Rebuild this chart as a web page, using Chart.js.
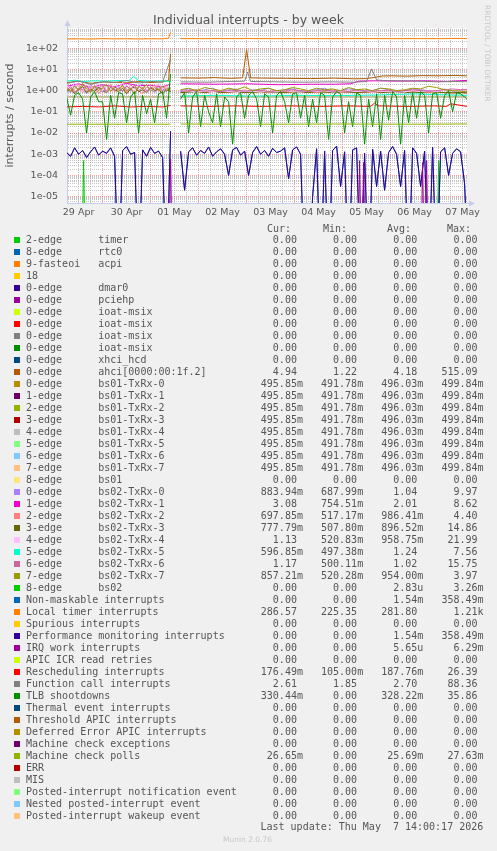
<!DOCTYPE html>
<html>
<head>
<meta charset="utf-8">
<title>Individual interrupts - by week</title>
<script src="https://cdn.jsdelivr.net/npm/chart.js@4.4.1/dist/chart.umd.min.js"></script>
<style>
  body { margin: 0; background: #f0f0f0; }
  #page { position: relative; width: 497px; height: 851px; overflow: hidden; font-family: "DejaVu Sans", sans-serif; }
  #graph { position: absolute; left: 0; top: 0; }
  .txt { position: absolute; white-space: pre; }
  #title { left: 0; width: 497px; top: 13px; text-align: center; font-size: 12.5px; line-height: 14px; color: #555; }
  #vendor { left: 483px; top: 5px; writing-mode: vertical-rl; font-size: 7.5px; line-height: 8px; color: #c8c8c8; }
  .mono { font-family: "DejaVu Sans Mono", monospace; font-size: 10px; line-height: 12px; color: #555; }
  .sw { position: absolute; width: 6px; height: 6px; }
  #munin { left: 223px; top: 835px; font-size: 7.5px; line-height: 9px; color: #c8c8c8; }
</style>
</head>
<body>
<div id="page">
  <canvas id="graph" width="497" height="225"></canvas>
  <div id="title" class="txt">Individual interrupts - by week</div>
  <div id="vendor" class="txt">RRDTOOL / TOBI OETIKER</div>
  <div id="legend"></div>
  <div id="munin" class="txt">Munin 2.0.76</div>
</div>
<script>
// x is hours after 29 Apr 00:00
const X_MIN = 6.2, X_MAX = 206.2;
const Y_MIN = 5e-6, Y_MAX = 900;
const FLOOR = 1e-9; // zero readings fall off the log axis
const dayLabels = ['29 Apr', '30 Apr', '01 May', '02 May', '03 May', '04 May', '05 May', '06 May', '07 May'];

// sample times, hole around 01 May noon
const hours = [];
for (let h = 6; h <= 58; h += 2) hours.push(h);
hours.push(60.5);
for (let h = 63; h <= 207; h += 2) hours.push(h);

const bandHours = [];
for (let h = 6; h <= 58; h += 2) bandHours.push(h);
bandHours.push(60.5);
for (let h = 63; h <= 207; h += 4) bandHours.push(h);

const tlbVals = [0.5, 0.07, 0.6, 0.8, 0.4, 0.01, 0.5, 0.9, 0.3, 0.3, 0.005, 0.6, 0.05, 0.8, 0.7, 0.03, 0.5, 0.9, 0.01, 0.6, 0.08, 0.4, 0.03, 0.7, 0.9, 0.05, 6,
  null,
  0.4, 0.8, 0.01, 0.5, 0.9, 0.02, 0.6, 0.1, 0.03, 0.7, 0.02, 0.5, 0.3, 0.003, 0.5, 0.8, 0.05, 0.6, 0.9, 0.4, 0.02, 0.7, 0.5, 0.01, 0.6, 0.9, 0.3, 0.03,
  0.7, 0.8, 0.05, 0.6, 0.02, 0.4, 0.03, 0.8, 0.6, 0.005, 0.5, 0.9, 0.7, 0.01, 0.3, 0.02, 0.8, 0.6, 0.003, 0.4, 0.02, 0.7, 0.005, 0.6, 0.04, 0.9, 0.5,
  0.003, 0.6, 0.03, 0.8, 0.05, 0.9, 0.6, 0.01, 0.7, 0.8, 0.05, 0.6, 1.0, 0.1, 0.8, 0.7, 0.5, 0.33];

const perfVals = [1.2e-3, 8e-4, 2e-3, 1e-3, 1.5e-3, 7e-4, 1.3e-3, 2.2e-3, 9e-4, 1.4e-3, 1.1e-3, 2e-3, 8e-4, 0, 1.5e-3, 2.3e-3, 1e-3, 1.2e-3, 0, 1.6e-3, 8e-4, 2.1e-3, 1.1e-3, 1.4e-3, 7e-4, 0, 0.012,
  null,
  1.4e-3, 2e-5, 1.3e-3, 2e-3, 9e-4, 1.5e-3, 1.1e-3, 2.2e-3, 8e-4, 1.3e-3, 1.8e-3, 1e-3, 1e-4, 1.6e-3, 2.1e-3, 9e-4, 1.4e-3, 1e-4, 1.2e-3, 2.3e-3,
  1e-3, 1.5e-3, 8e-4, 1.9e-3, 1.2e-3, 1.4e-3, 2e-3, 7e-5, 1.6e-3, 2.2e-3, 1e-3, 0, 0, 1e-5, 1.8e-3, 0, 1.4e-3, 0, 1.5e-3, 2.4e-3, 3e-5, 1.3e-3,
  0, 1.6e-3, 2e-3, 0, 1.1e-3, 0, 1.7e-3, 3e-5, 1.4e-3, 2e-5, 1.2e-3, 2.3e-3, 1e-3, 3e-5, 1.5e-3, 0, 2e-3, 1.1e-3, 3e-5, 1.4e-3, 0, 2.1e-3, 0,
  1.3e-3, 2e-3, 1e-4, 1.1e-3, 1.8e-3, 1.3e-3, 4e-5, 0];
const nmiVals = perfVals; // same readings as performance monitoring

const bs02q0 = [1.2, 0.8, 1.9, 1.0, 1.5, 0.7, 2.0, 1.1, 1.4, 0.8, 1.7, 1.0, 1.3, 1.6, 0.9, 1.8, 1.1, 0.7, 1.5, 2.1, 1.0, 1.3, 0.8, 1.6, 1.2, 0.9, 1.4,
  null,
  1.0, 1.2, 0.9, 1.1, 1.3, 0.9, 1.0, 1.2, 0.8, 1.1, 1.0, 1.3, 0.9, 1.1, 1.2, 0.9, 1.0, 1.1, 1.3, 0.9, 1.0, 1.2, 1.1, 0.9, 1.0, 1.3, 1.1, 0.9, 1.0, 1.2, 1.1, 1.0, 0.9, 1.2, 0.95, 1.0, 0.88];
const bs02q2 = [1.5, 0.9, 1.2, 2.0, 0.8, 1.4, 1.1, 1.8, 0.7, 1.3, 1.0, 2.1, 0.9, 1.2, 1.6, 0.8, 1.9, 1.2, 1.0, 0.7, 1.5, 1.1, 2.0, 0.9, 1.3, 1.7, 1.0,
  null,
  0.8, 0.9, 1.1, 0.8, 0.9, 1.0, 0.8, 0.9, 1.1, 0.8, 0.9, 0.8, 1.0, 0.9, 0.8, 1.0, 0.9, 0.8, 0.9, 1.1, 0.8, 0.9, 1.0, 0.8, 0.9, 0.8, 1.0, 0.9, 0.8, 0.9, 1.0, 0.8, 0.9, 0.8, 0.75, 0.8, 0.7];
const bs02q3 = [0.9, 1.3, 0.7, 1.1, 1.6, 0.8, 1.2, 0.9, 1.5, 1.0, 0.8, 1.4, 1.1, 0.9, 1.3, 0.7, 1.2, 1.5, 0.9, 1.1, 0.8, 1.4, 1.0, 1.2, 0.7, 1.1, 0.9,
  null,
  0.8, 0.85, 0.9, 0.8, 0.95, 0.8, 0.85, 0.9, 0.8, 0.85, 0.9, 0.8, 0.85, 0.8, 0.9, 0.85, 0.8, 0.9, 0.85, 0.8, 0.9, 0.85, 0.8, 0.85, 0.9, 0.8, 0.85, 0.9, 0.8, 0.85, 0.8, 0.9, 0.85, 0.8, 0.8, 0.82, 0.78];
const bs02q4 = [1.8, 1.1, 2.3, 1.4, 0.9, 2.0, 1.3, 1.6, 2.2, 1.0, 1.7, 1.2, 1.9, 1.4, 2.4, 1.1, 1.5, 0.9, 2.1, 1.3, 1.8, 1.0, 1.6, 2.2, 1.2, 1.5, 1.9,
  null,
  0.9, 1.0, 0.85, 0.95, 0.9, 1.05, 0.9, 0.85, 1.0, 0.9, 0.95, 0.85, 0.9, 1.0, 0.9, 0.85, 0.95, 0.9, 1.0, 0.85, 0.9, 0.95, 0.9, 1.0, 0.85, 0.9, 0.95, 0.9, 0.85, 1.0, 0.9, 0.95, 0.9, 1.1, 1.0, 1.05, 1.13];
const bs02q6 = [1.0, 1.6, 0.8, 1.3, 1.1, 1.7, 0.9, 1.4, 1.2, 1.9, 0.8, 1.5, 1.0, 1.3, 0.9, 1.6, 1.2, 1.8, 1.0, 1.4, 0.8, 1.5, 1.1, 1.7, 0.9, 1.3, 1.2,
  null,
  0.9, 1.0, 1.05, 0.95, 1.0, 0.9, 1.1, 1.0, 0.95, 1.0, 1.05, 0.9, 1.0, 0.95, 1.1, 1.0, 0.9, 1.0, 1.05, 0.95, 1.0, 0.9, 1.1, 1.0, 0.95, 1.0, 1.05, 0.9, 1.0, 1.1, 1.0, 0.95, 1.0, 1.1, 1.2, 1.1, 1.17];
const bs02q7 = [1.3, 0.9, 1.6, 1.1, 2.2, 1.2, 0.8, 1.7, 1.0, 1.4, 2.0, 0.9, 1.5, 1.1, 1.8, 1.0, 1.3, 0.7, 1.6, 1.2, 2.0, 0.9, 1.4, 1.1, 1.7, 1.0, 1.3,
  null,
  1.1, 1.3, 1.0, 1.4, 1.2, 1.0, 1.3, 1.1, 1.5, 1.0, 1.2, 1.3, 1.0, 1.1, 1.4, 1.2, 1.0, 1.3, 1.1, 1.2, 1.0, 1.4, 1.1, 1.2, 1.0, 1.3, 1.2, 1.0, 1.1, 1.3, 1.2, 1.6, 1.4, 1.1, 1.0, 0.95, 0.86];

const magHours = [6, 12, 18, 24, 30, 36, 42, 48, 54, 58, 60.5, 63, 80, 96, 112, 128, 140, 148, 152, 160, 172, 186, 196, 207];
const magVals = [1.6, 2.1, 1.4, 1.9, 1.5, 2.2, 1.7, 1.8, 1.5, 2.0, null, 2.1, 2.0, 2.1, 1.9, 2.0, 2.0, 2.1, 2.8, 2.9, 2.8, 2.9, 2.7, 3.08];

const cyanHours = [6, 10, 14, 20, 26, 32, 37, 39.5, 42, 48, 54, 58, 60.5, 63, 80, 100, 120, 140, 160, 180, 190, 200, 207];
const cyanVals = [2.8, 3.1, 2.7, 2.9, 2.8, 3.0, 2.9, 4.6, 3.0, 2.8, 2.9, 2.7, null, 0.55, 0.6, 0.55, 0.6, 0.58, 0.62, 0.7, 0.65, 0.62, 0.6];

const ahciHours = [6, 12, 18, 24, 30, 36, 42, 48, 54, 57, 58, 60.5, 63, 72, 80, 88, 94, 96, 98, 104, 116, 128, 140, 150, 156, 160, 164, 168, 176, 184, 192, 200, 207];
const ahciVals = [2.4, 2.8, 2.2, 2.6, 2.5, 2.3, 2.7, 2.4, 2.6, 3.0, 55, null, 4.0, 3.9, 4.1, 3.8, 4.0, 85, 4.0, 3.9, 3.8, 3.7, 3.9, 3.6, 3.7, 4.2, 4.9, 5.0, 4.8, 5.1, 5.0, 5.2, 4.94];

const funcHours = [6, 12, 18, 24, 30, 36, 42, 48, 54, 58, 60.5, 63, 76, 88, 95, 96.5, 98, 110, 124, 138, 150, 156, 158.5, 161, 164, 172, 182, 192, 200, 207];
const funcVals = [2.2, 2.8, 2.0, 2.6, 2.4, 3.0, 2.3, 2.7, 2.5, 30, null, 2.6, 2.5, 2.7, 2.8, 7.5, 2.7, 2.6, 2.5, 2.6, 2.5, 2.7, 10.5, 3.2, 3.0, 2.9, 2.8, 2.6, 2.7, 2.61];

const ltHours = [6, 12, 18, 24, 30, 36, 42, 48, 54, 57, 58, 60.5, 63, 72, 84, 94, 96, 98, 110, 124, 138, 152, 166, 180, 194, 200, 207];
const ltVals = [272, 278, 270, 282, 275, 280, 273, 279, 276, 300, 560, null, 284, 283, 285, 283, 292, 284, 283, 284, 282, 285, 283, 284, 283, 290, 286.57];

const rsHours = [6, 14, 22, 30, 38, 46, 54, 58, 60.5, 63, 76, 90, 104, 118, 132, 146, 158, 160, 162, 176, 190, 196, 198, 207];
const rsVals = [0.17, 0.18, 0.17, 0.19, 0.17, 0.18, 0.17, 0.2, null, 0.19, 0.18, 0.19, 0.18, 0.19, 0.18, 0.19, 0.18, 0.26, 0.19, 0.18, 0.19, 0.18, 0.24, 0.176];

const mcpHours = [6, 30, 58, 60.5, 63, 100, 140, 180, 207];
const mcpVals = [0.026, 0.026, 0.026, null, 0.0265, 0.026, 0.0265, 0.026, 0.0267];

const bs01Hours = [6, 58, 60.5, 63, 207];
const bs01Vals = [0.496, 0.497, null, 0.496, 0.4959];

const irqHours = [6, 57, 58, 59, 60.5, 63, 151.5, 152.5, 153.5, 154.5, 155.5, 183, 184, 185, 186, 187, 207];
const irqVals = [0, 0, 6e-4, 0, null, 0, 0, 5e-4, 0, 4e-4, 0, 0, 4e-4, 0, 5e-4, 0, 0];

const bs02Hours = [6, 13.5, 14.5, 15.5, 60.5, 191, 192, 193, 207];
const bs02Vals = [0, 0, 5e-4, 0, null, 0, 5e-4, 0, 0];

const palette = ['#00CC00', '#0066B3', '#FF8000', '#FFCC00', '#330099', '#990099', '#CCFF00', '#FF0000', '#808080', '#008F00',
  '#00487D', '#B35A00', '#B38F00', '#6B006B', '#8FB300', '#B30000', '#BEBEBE', '#80FF80', '#80C9FF', '#FFC080',
  '#FFE680', '#AA80FF', '#EE00CC', '#FF8080', '#666600', '#FFBFFF', '#00FFCC', '#CC6699', '#999900'];
const colorOf = i => palette[i % palette.length];

const irqNames = [
  ['2-edge', 'timer'], ['8-edge', 'rtc0'], ['9-fasteoi', 'acpi'], ['18', ''],
  ['0-edge', 'dmar0'], ['0-edge', 'pciehp'], ['0-edge', 'ioat-msix'], ['0-edge', 'ioat-msix'], ['0-edge', 'ioat-msix'], ['0-edge', 'ioat-msix'],
  ['0-edge', 'xhci_hcd'], ['0-edge', 'ahci[0000:00:1f.2]'],
  ['0-edge', 'bs01-TxRx-0'], ['1-edge', 'bs01-TxRx-1'], ['2-edge', 'bs01-TxRx-2'], ['3-edge', 'bs01-TxRx-3'],
  ['4-edge', 'bs01-TxRx-4'], ['5-edge', 'bs01-TxRx-5'], ['6-edge', 'bs01-TxRx-6'], ['7-edge', 'bs01-TxRx-7'], ['8-edge', 'bs01'],
  ['0-edge', 'bs02-TxRx-0'], ['1-edge', 'bs02-TxRx-1'], ['2-edge', 'bs02-TxRx-2'], ['3-edge', 'bs02-TxRx-3'],
  ['4-edge', 'bs02-TxRx-4'], ['5-edge', 'bs02-TxRx-5'], ['6-edge', 'bs02-TxRx-6'], ['7-edge', 'bs02-TxRx-7'], ['8-edge', 'bs02'],
  'Non-maskable interrupts', 'Local timer interrupts', 'Spurious interrupts', 'Performance monitoring interrupts',
  'IRQ work interrupts', 'APIC ICR read retries', 'Rescheduling interrupts', 'Function call interrupts', 'TLB shootdowns',
  'Thermal event interrupts', 'Threshold APIC interrupts', 'Deferred Error APIC interrupts', 'Machine check exceptions',
  'Machine check polls', 'ERR', 'MIS', 'Posted-interrupt notification event', 'Nested posted-interrupt event', 'Posted-interrupt wakeup event'];

const curVals = ['0.00', '0.00', '0.00', '0.00', '0.00', '0.00', '0.00', '0.00', '0.00', '0.00', '0.00', '4.94',
  '495.85m', '495.85m', '495.85m', '495.85m', '495.85m', '495.85m', '495.85m', '495.85m', '0.00',
  '883.94m', '3.08', '697.85m', '777.79m', '1.13', '596.85m', '1.17', '857.21m', '0.00',
  '0.00', '286.57', '0.00', '0.00', '0.00', '0.00', '176.49m', '2.61', '330.44m',
  '0.00', '0.00', '0.00', '0.00', '26.65m', '0.00', '0.00', '0.00', '0.00', '0.00'];
const minVals = ['0.00', '0.00', '0.00', '0.00', '0.00', '0.00', '0.00', '0.00', '0.00', '0.00', '0.00', '1.22',
  '491.78m', '491.78m', '491.78m', '491.78m', '491.78m', '491.78m', '491.78m', '491.78m', '0.00',
  '687.99m', '754.51m', '517.17m', '507.80m', '520.83m', '497.38m', '500.11m', '520.28m', '0.00',
  '0.00', '225.35', '0.00', '0.00', '0.00', '0.00', '105.00m', '1.85', '0.00',
  '0.00', '0.00', '0.00', '0.00', '0.00', '0.00', '0.00', '0.00', '0.00', '0.00'];
const avgVals = ['0.00', '0.00', '0.00', '0.00', '0.00', '0.00', '0.00', '0.00', '0.00', '0.00', '0.00', '4.18',
  '496.03m', '496.03m', '496.03m', '496.03m', '496.03m', '496.03m', '496.03m', '496.03m', '0.00',
  '1.04', '2.01', '986.41m', '896.52m', '958.75m', '1.24', '1.02', '954.00m', '2.83u',
  '1.54m', '281.80', '0.00', '1.54m', '5.65u', '0.00', '187.76m', '2.70', '328.22m',
  '0.00', '0.00', '0.00', '0.00', '25.69m', '0.00', '0.00', '0.00', '0.00', '0.00'];
const maxVals = ['0.00', '0.00', '0.00', '0.00', '0.00', '0.00', '0.00', '0.00', '0.00', '0.00', '0.00', '515.09',
  '499.84m', '499.84m', '499.84m', '499.84m', '499.84m', '499.84m', '499.84m', '499.84m', '0.00',
  '9.97', '8.62', '4.40', '14.86', '21.99', '7.56', '15.75', '3.97', '3.26m',
  '358.49m', '1.21k', '0.00', '358.49m', '6.29m', '0.00', '26.39', '88.36', '35.86',
  '0.00', '0.00', '0.00', '0.00', '27.63m', '0.00', '0.00', '0.00', '0.00', '0.00'];

const rowNames = irqNames.map(n => Array.isArray(n) ? (n[1] ? n[0].padEnd(12) + n[1] : n[0]) : n);

// which legend rows actually leave a line on the log plot
const drawn = [
  { row: 11, h: ahciHours, v: ahciVals },
  { row: 12, h: bs01Hours, v: bs01Vals }, { row: 13, h: bs01Hours, v: bs01Vals },
  { row: 14, h: bs01Hours, v: bs01Vals }, { row: 15, h: bs01Hours, v: bs01Vals },
  { row: 16, h: bs01Hours, v: bs01Vals }, { row: 17, h: bs01Hours, v: bs01Vals },
  { row: 18, h: bs01Hours, v: bs01Vals }, { row: 19, h: bs01Hours, v: bs01Vals },
  { row: 21, h: bandHours, v: bs02q0 },
  { row: 22, h: magHours, v: magVals },
  { row: 23, h: bandHours, v: bs02q2 },
  { row: 24, h: bandHours, v: bs02q3 },
  { row: 25, h: bandHours, v: bs02q4 },
  { row: 26, h: cyanHours, v: cyanVals },
  { row: 27, h: bandHours, v: bs02q6 },
  { row: 28, h: bandHours, v: bs02q7 },
  { row: 29, h: bs02Hours, v: bs02Vals },
  { row: 30, h: hours, v: nmiVals },
  { row: 31, h: ltHours, v: ltVals },
  { row: 33, h: hours, v: perfVals },
  { row: 34, h: irqHours, v: irqVals },
  { row: 36, h: rsHours, v: rsVals },
  { row: 37, h: funcHours, v: funcVals },
  { row: 38, h: hours, v: tlbVals },
  { row: 43, h: mcpHours, v: mcpVals }
];

// rrdtool paints in legend order, last one on top
const datasets = drawn.map(s => ({
  label: rowNames[s.row],
  data: s.h.map((x, i) => {
    const y = s.v[i];
    return { x: x, y: y == null ? null : (y === 0 ? FLOOR : y) };
  }),
  borderColor: colorOf(s.row),
  borderWidth: 1,
  pointRadius: 0,
  tension: 0,
  spanGaps: false,
  clip: 0
})).reverse();

const xGrid = [];
for (let h = 12; h < X_MAX; h += 6) xGrid.push(h);
const yGrid = [];
for (let e = -6; e <= 2; e++) {
  for (let m = 1; m <= 9; m++) {
    const v = Number(m + 'e' + e);
    if (v > Y_MIN && v < Y_MAX) yGrid.push(v);
  }
}

const minorGrid = 'rgba(150,150,150,0.55)';
const majorGrid = 'rgba(240,90,90,0.6)';
const axisColor = '#c6ccee';

const frame = {
  id: 'frame',
  beforeDraw(chart) {
    const a = chart.chartArea, ctx = chart.ctx;
    ctx.save();
    ctx.fillStyle = '#ffffff';
    ctx.fillRect(a.left, a.top, a.right - a.left, a.bottom - a.top);
    ctx.restore();
  },
  afterDraw(chart) {
    const a = chart.chartArea, ctx = chart.ctx;
    ctx.save();
    ctx.fillStyle = axisColor;
    ctx.strokeStyle = axisColor;
    ctx.beginPath();
    ctx.moveTo(a.left + 0.5, a.top);
    ctx.lineTo(a.left + 0.5, a.top - 4);
    ctx.moveTo(a.right, a.bottom + 0.5);
    ctx.lineTo(a.right + 4, a.bottom + 0.5);
    ctx.stroke();
    ctx.beginPath();
    ctx.moveTo(a.left + 0.5, a.top - 8);
    ctx.lineTo(a.left - 2.5, a.top - 2);
    ctx.lineTo(a.left + 3.5, a.top - 2);
    ctx.closePath();
    ctx.fill();
    ctx.beginPath();
    ctx.moveTo(a.right + 8, a.bottom + 0.5);
    ctx.lineTo(a.right + 2, a.bottom - 2.5);
    ctx.lineTo(a.right + 2, a.bottom + 3.5);
    ctx.closePath();
    ctx.fill();
    ctx.restore();
  }
};

Chart.defaults.font.family = '"DejaVu Sans", sans-serif';

new Chart(document.getElementById('graph').getContext('2d'), {
  type: 'line',
  data: { datasets: datasets },
  options: {
    responsive: false,
    animation: false,
    events: [],
    layout: { padding: { top: 28, right: 30, left: 0, bottom: 0 } },
    plugins: { legend: { display: false }, tooltip: { enabled: false }, title: { display: false } },
    scales: {
      x: {
        type: 'linear',
        min: X_MIN,
        max: X_MAX,
        afterBuildTicks: s => { s.ticks = xGrid.map(v => ({ value: v })); },
        afterFit: s => { s.height = 22; s.paddingLeft = 0; s.paddingRight = 0; },
        ticks: {
          autoSkip: false,
          maxRotation: 0,
          padding: 4,
          color: '#555',
          font: { size: 9.5 },
          callback: v => ((v - 12) % 24 === 0 ? dayLabels[(v - 12) / 24] : '')
        },
        grid: { drawTicks: false, lineWidth: 1, color: c => (c.tick && c.tick.value % 24 === 0 ? majorGrid : minorGrid) },
        border: { display: true, color: axisColor, dash: [1, 1] }
      },
      y: {
        type: 'logarithmic',
        min: Y_MIN,
        max: Y_MAX,
        afterBuildTicks: s => { s.ticks = yGrid.map(v => ({ value: v })); },
        afterFit: s => { s.width = 67; s.paddingTop = 0; s.paddingBottom = 0; },
        ticks: {
          autoSkip: false,
          padding: 9,
          color: '#555',
          font: { size: 9.5 },
          callback: v => {
            const e = Math.round(Math.log10(v));
            if (Math.abs(Math.log10(v) - e) > 1e-9) return '';
            return '1e' + (e < 0 ? '-' : '+') + String(Math.abs(e)).padStart(2, '0');
          }
        },
        grid: {
          drawTicks: false,
          lineWidth: 1,
          color: c => {
            if (!c.tick) return minorGrid;
            const l = Math.log10(c.tick.value);
            return Math.abs(l - Math.round(l)) < 1e-9 ? majorGrid : minorGrid;
          }
        },
        border: { display: true, color: axisColor, dash: [1, 1] },
        title: { display: true, text: 'interrupts / second', color: '#555', font: { size: 11 }, padding: { top: 4, bottom: 4 } }
      }
    }
  },
  plugins: [frame]
});

// legend table under the graph
const legendBox = document.getElementById('legend');
function place(left, top, text) {
  const d = document.createElement('div');
  d.className = 'txt mono';
  d.style.left = left + 'px';
  d.style.top = top + 'px';
  d.textContent = text;
  legendBox.appendChild(d);
}
function cell(s) {
  const unit = /[a-z]$/i.test(s) ? s.slice(-1) : ' ';
  const num = unit === ' ' ? s : s.slice(0, -1);
  return num.padStart(6) + unit;
}
const headLeft = [267, 323, 387, 447];
['Cur:', 'Min:', 'Avg:', 'Max:'].forEach((t, k) => place(headLeft[k], 223, t));
rowNames.forEach((name, i) => {
  const top = 234 + 12 * i;
  const sw = document.createElement('div');
  sw.className = 'sw';
  sw.style.left = '14px';
  sw.style.top = (top + 3) + 'px';
  sw.style.background = colorOf(i);
  legendBox.appendChild(sw);
  place(26, top, name.padEnd(39) + [curVals[i], minVals[i], avgVals[i], maxVals[i]].map(cell).join('   '));
});
place(260.5, 821, 'Last update: Thu May  7 14:00:17 2026');
</script>
</body>
</html>
